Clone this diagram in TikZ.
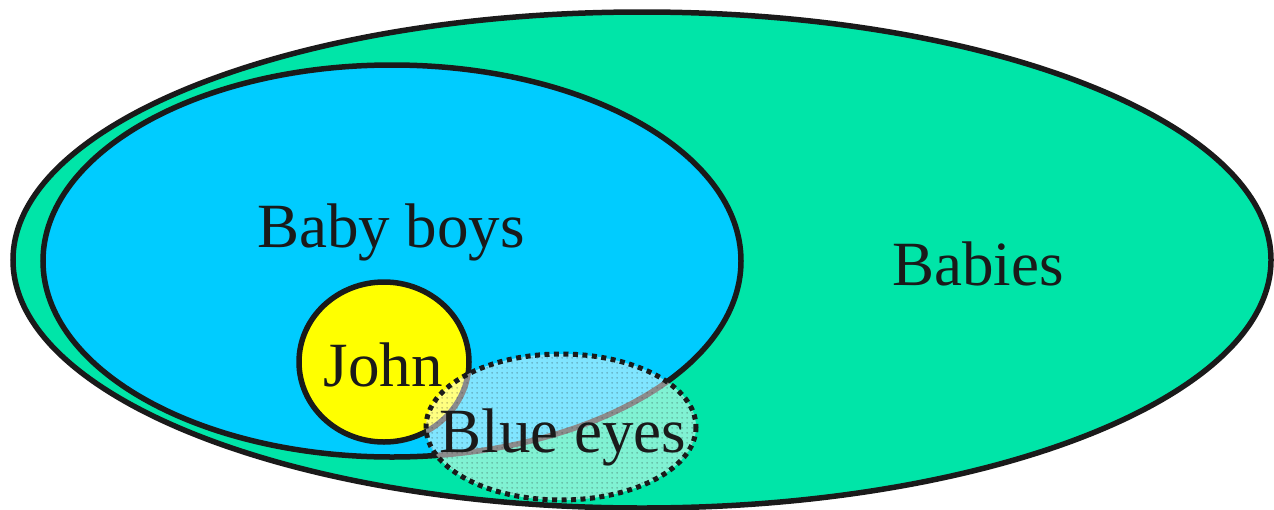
\documentclass[tikz,border=0pt]{standalone}
\usepackage{fontspec}
\setmainfont{Liberation Serif}
\usetikzlibrary{patterns}
\pgfdeclarepatternformonly{bigdots}{\pgfpointorigin}{\pgfpoint{5pt}{5pt}}{\pgfpoint{5pt}{5pt}}{%
  \pgfpathcircle{\pgfpoint{2.5pt}{2.5pt}}{1.1pt}\pgfusepath{fill}}
\definecolor{babiesgreen}{HTML}{00E5A8}
\definecolor{boysblue}{HTML}{00CCFF}
\definecolor{johnyellow}{HTML}{FFFF00}
\definecolor{ink}{HTML}{1A1A1A}
\begin{document}
\begin{tikzpicture}[x=1pt,y=-1pt,
  setshape/.style={draw=ink,line width=5.5pt},
  lbl/.style={font=\fontsize{63}{63}\selectfont,text=ink,inner sep=0pt,anchor=base}]
\useasboundingbox (0,0) rectangle (1274,509);
\fill[white] (0,0) rectangle (1274,509);
\path[setshape,fill=babiesgreen] (642,260) ellipse [x radius=629,y radius=248];
\path[setshape,fill=boysblue] (392,261) ellipse [x radius=349,y radius=196];
\path[setshape,fill=johnyellow] (384,362) ellipse [x radius=85,y radius=80];
\fill[white,fill opacity=0.5] (561,427) ellipse [x radius=135,y radius=73];
\fill[pattern=bigdots,pattern color=ink,fill opacity=0.3] (561,427) ellipse [x radius=135,y radius=73];
\draw[draw=ink,line width=5pt,dash pattern=on 5pt off 4.5pt] (561,427) ellipse [x radius=135,y radius=73];
\node[lbl] (boys) at (391,247) {Baby boys};
\node[lbl] (babies) at (978,285) {Babies};
\node[lbl] (john) at (383,386) {John};
\node[lbl] (blue) at (563,452) {Blue eyes};
\end{tikzpicture}
\end{document}
